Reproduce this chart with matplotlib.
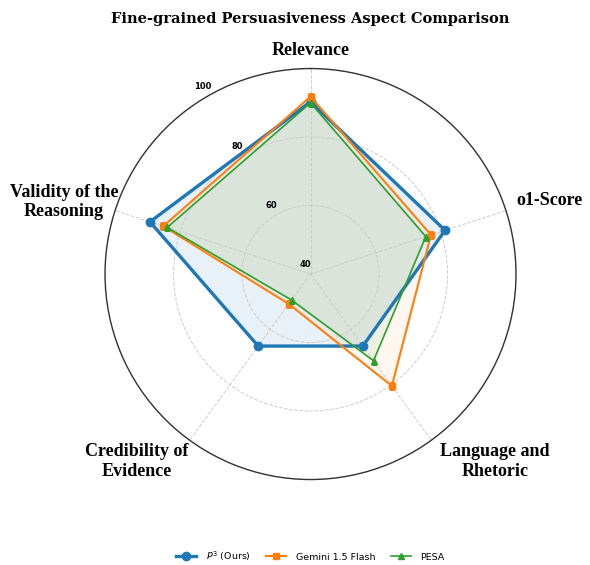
import numpy as np
import matplotlib
matplotlib.use("Agg")
import matplotlib.pyplot as plt

# Aspect scores per model (clockwise from the top)
aspects = ["Relevance", "o1-Score", "Language and\nRhetoric",
           "Credibility of\nEvidence", "Validity of the\nReasoning"]
p3_scores = [90.3, 81.3, 66.0, 66.0, 89.3]
gemini_scores = [91.8, 77.0, 80.4, 50.8, 85.2]
pesa_scores = [90.0, 75.4, 71.3, 49.4, 84.0]

r_ticks = [40, 60, 80, 100]

series = [
    (r"$P^3$ (Ours)", p3_scores, "tab:blue", "o", 2.4, 6, 0.1),
    ("Gemini 1.5 Flash", gemini_scores, "tab:orange", "s", 1.5, 5, 0.06),
    ("PESA", pesa_scores, "tab:green", "^", 1.2, 5, 0.07),
]

n = len(aspects)
angles = np.linspace(0, 2 * np.pi, n, endpoint=False)
closed = np.concatenate([angles, angles[:1]])

fig = plt.figure(figsize=(5.9, 5.65), dpi=100)
ax = fig.add_axes([0.178, 0.1513, 0.6966, 0.7274], polar=True)
ax.set_theta_offset(np.pi / 2)
ax.set_theta_direction(-1)

for name, vals, color, marker, lw, ms, alpha in series:
    v = np.concatenate([vals, vals[:1]])
    ax.plot(closed, v, color=color, marker=marker, linewidth=lw,
            markersize=ms, label=name)
    ax.fill(closed, v, color=color, alpha=alpha)

ax.set_ylim(40, 100)
ax.set_yticks(r_ticks)
ax.set_yticklabels([])
# radial value labels along a spoke 30 deg left of the top
rlabel_theta = np.deg2rad(-30)
for t in r_ticks:
    ax.annotate(str(t), xy=(rlabel_theta, t), xytext=(-3.6, 6.6),
                textcoords="offset points", ha="center", va="center",
                fontsize=6, fontweight="bold", annotation_clip=False)

ax.set_xticks(angles)
ax.set_xticklabels([])
ax.grid(color="#cccccc", linestyle="--", linewidth=0.7)
ax.spines["polar"].set_color("#333333")
ax.spines["polar"].set_linewidth(1.0)

# category labels, offset (points) from where each spoke meets the outer ring
label_offsets = [((0, 13.3), "center", "center"),
                 ((7.3, 7.1), "left", "center"),
                 ((6.3, -2), "left", "top"),
                 ((-1, -2), "right", "top"),
                 ((2.1, 6.1), "right", "center")]
for ang, txt, (off, ha, va) in zip(angles, aspects, label_offsets):
    ax.annotate(txt, xy=(ang, 100), xytext=off, textcoords="offset points",
                ha=ha, va=va, multialignment="center",
                family="Liberation Serif", fontweight="bold", fontsize=13,
                annotation_clip=False)

fig.text(0.526, 0.966, "Fine-grained Persuasiveness Aspect Comparison",
         ha="center", va="center", family="DejaVu Serif",
         fontweight="bold", fontsize=10.5)

ax.legend(loc="center", bbox_to_anchor=(0.5, -0.186), ncol=3,
          frameon=False, fontsize=6.8, handlelength=2.1, handletextpad=1.0,
          columnspacing=1.7)

plt.savefig("out.png", dpi=100)
